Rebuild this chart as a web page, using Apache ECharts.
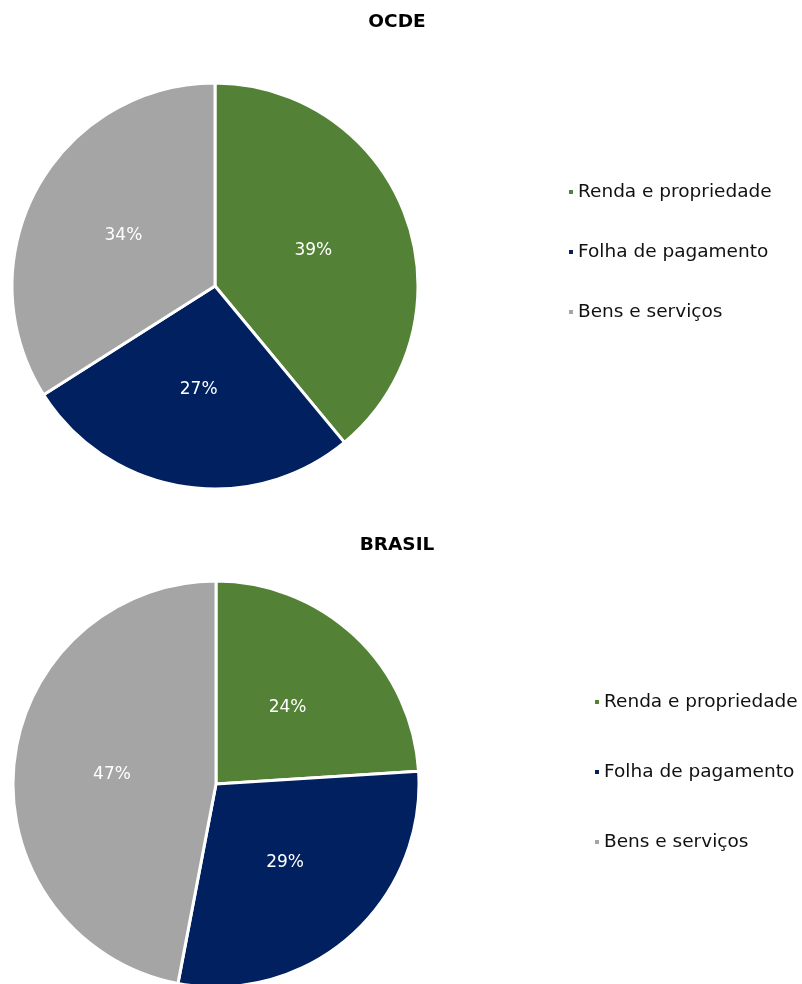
<!DOCTYPE html>
<html><head><meta charset="utf-8">
<script src="https://cdn.jsdelivr.net/npm/echarts@6/dist/echarts.min.js"></script>
<style>html,body{margin:0;padding:0;background:#fff}#c{width:802px;height:984px}</style>
</head><body><div id="c"></div>
<script>
const categories = ["Renda e propriedade", "Folha de pagamento", "Bens e serviços"];
const ocdeValues = [39, 27, 34];
const brasilValues = [24, 29, 47];
const titles = ["OCDE", "BRASIL"];
const colors = ["#538135", "#002060", "#A5A5A5"];
const FONT = "'DejaVu Sans', sans-serif";

function mk(vals){ return categories.map((n,i)=>({name:n, value:vals[i], itemStyle:{color:colors[i]}})); }

const legendCommon = {
  orient:'vertical', icon:'rect', itemWidth:4, itemHeight:4,
  itemStyle:{borderWidth:0},
  textStyle:{fontFamily:FONT, fontSize:18.5, color:'#111', lineHeight:20, padding:[0,0,0,0]},
  data: categories, selectedMode:false
};

const chart = echarts.init(document.getElementById('c'), null, {renderer:'canvas'});
chart.setOption({
  animation:false,
  color: colors,
  graphic:[
    {type:'text', x:397, y:22, style:{text:titles[0], x:0, y:0, align:'center', verticalAlign:'middle', font:"bold 18.5px 'DejaVu Sans'", fill:'#000'}},
    {type:'text', x:397, y:545, style:{text:titles[1], x:0, y:0, align:'center', verticalAlign:'middle', font:"bold 18.5px 'DejaVu Sans'", fill:'#000'}}
  ],
  legend:[
    Object.assign({left:564, top:177, itemGap:40}, legendCommon),
    Object.assign({left:590, top:687, itemGap:50}, legendCommon)
  ],
  series:[
    {type:'pie', center:[215,286], radius:203, startAngle:90, clockwise:true,
     itemStyle:{borderColor:'#fff', borderWidth:3},
     label:{show:true, position:'inside', formatter:'{c}%', color:'#fff', fontFamily:FONT, fontSize:17},
     labelLine:{show:false}, emphasis:{disabled:true}, data:mk(ocdeValues)},
    {type:'pie', center:[216,784], radius:203, startAngle:90, clockwise:true,
     itemStyle:{borderColor:'#fff', borderWidth:3},
     label:{show:true, position:'inside', formatter:'{c}%', color:'#fff', fontFamily:FONT, fontSize:17},
     labelLine:{show:false}, emphasis:{disabled:true}, data:mk(brasilValues)}
  ]
});
</script></body></html>
